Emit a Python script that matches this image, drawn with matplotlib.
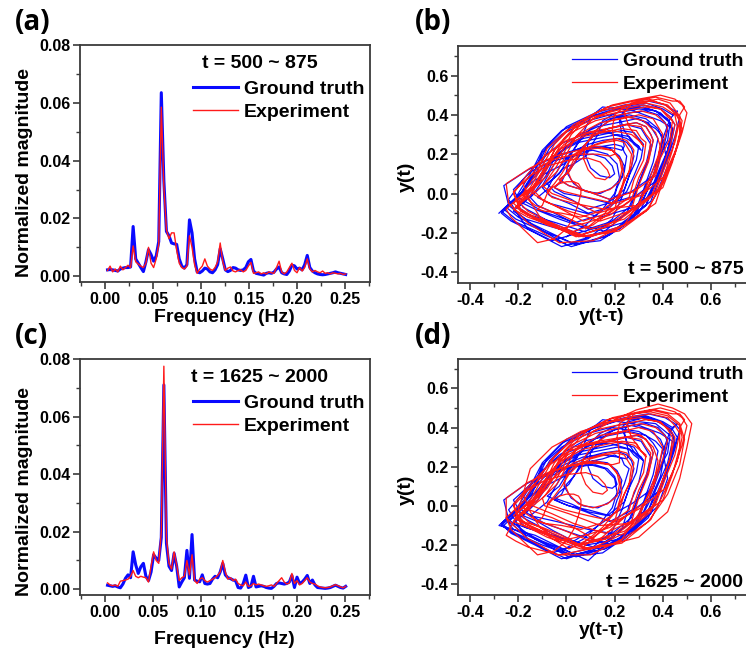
import numpy as np
import matplotlib
matplotlib.use("Agg")
import matplotlib.pyplot as plt
from matplotlib.ticker import MultipleLocator

# ---------------- data ----------------
FREQ_STEP = 1.0 / 375.0          # FFT bin spacing (Hz)
N_BINS = 94
LAG = 3                           # delay (samples) used for the y(t) vs y(t-tau) plots

spec_a_truth = [0.0022,0.0023,0.0022,0.0020,0.0018,0.0025,0.0028,0.0030,0.0030,0.0032,
0.0172,0.0060,0.0045,0.0030,0.0016,0.0050,0.0092,0.0075,0.0052,0.0070,
0.0120,0.0635,0.0330,0.0155,0.0140,0.0115,0.0112,0.0110,0.0060,0.0035,
0.0028,0.0040,0.0195,0.0150,0.0060,0.0015,0.0012,0.0018,0.0028,0.0025,
0.0015,0.0012,0.0022,0.0040,0.0095,0.0060,0.0022,0.0016,0.0020,0.0030,
0.0028,0.0022,0.0020,0.0022,0.0030,0.0050,0.0058,0.0018,0.0010,0.0008,
0.0006,0.0004,0.0010,0.0012,0.0010,0.0014,0.0025,0.0032,0.0012,0.0008,
0.0006,0.0018,0.0038,0.0036,0.0025,0.0028,0.0022,0.0040,0.0072,0.0030,
0.0018,0.0012,0.0008,0.0006,0.0005,0.0006,0.0008,0.0010,0.0012,0.0015,
0.0012,0.0010,0.0008,0.0006]

spec_a_exp = [0.0020,0.0035,0.0015,0.0025,0.0015,0.0035,0.0022,0.0030,0.0038,0.0030,
0.0105,0.0050,0.0042,0.0035,0.0030,0.0045,0.0100,0.0045,0.0030,0.0060,
0.0110,0.0585,0.0310,0.0160,0.0130,0.0150,0.0150,0.0090,0.0045,0.0030,
0.0025,0.0035,0.0140,0.0100,0.0040,0.0010,0.0025,0.0035,0.0060,0.0035,
0.0025,0.0020,0.0030,0.0050,0.0115,0.0050,0.0020,0.0028,0.0032,0.0018,
0.0015,0.0020,0.0022,0.0015,0.0020,0.0035,0.0048,0.0010,0.0012,0.0015,
0.0008,0.0012,0.0008,0.0015,0.0012,0.0010,0.0030,0.0052,0.0015,0.0008,
0.0015,0.0030,0.0045,0.0020,0.0012,0.0030,0.0018,0.0030,0.0060,0.0025,
0.0015,0.0020,0.0015,0.0012,0.0018,0.0010,0.0012,0.0008,0.0012,0.0010,
0.0008,0.0010,0.0006,0.0008]

spec_c_truth = [0.0014,0.0012,0.0010,0.0012,0.0008,0.0005,0.0018,0.0038,0.0050,0.0040,
0.0130,0.0085,0.0055,0.0078,0.0090,0.0045,0.0030,0.0060,0.0120,0.0108,
0.0100,0.0180,0.0710,0.0160,0.0080,0.0065,0.0125,0.0080,0.0008,0.0025,
0.0040,0.0135,0.0038,0.0190,0.0032,0.0028,0.0026,0.0050,0.0020,0.0018,
0.0020,0.0035,0.0045,0.0040,0.0060,0.0090,0.0050,0.0040,0.0037,0.0032,
0.0030,0.0006,0.0004,0.0020,0.0049,0.0006,0.0010,0.0045,0.0008,0.0010,
0.0012,0.0010,0.0006,0.0004,0.0003,0.0010,0.0020,0.0022,0.0020,0.0018,
0.0020,0.0025,0.0048,0.0006,0.0042,0.0020,0.0025,0.0035,0.0048,0.0020,
0.0032,0.0015,0.0006,0.0005,0.0004,0.0003,0.0004,0.0006,0.0010,0.0014,
0.0010,0.0006,0.0004,0.0010]

spec_c_exp = [0.0022,0.0015,0.0012,0.0015,0.0010,0.0028,0.0030,0.0032,0.0035,0.0045,
0.0065,0.0045,0.0040,0.0045,0.0042,0.0040,0.0025,0.0080,0.0130,0.0100,
0.0090,0.0200,0.0775,0.0180,0.0090,0.0070,0.0130,0.0085,0.0030,0.0040,
0.0045,0.0100,0.0050,0.0120,0.0030,0.0020,0.0035,0.0040,0.0030,0.0025,
0.0030,0.0035,0.0040,0.0048,0.0060,0.0100,0.0060,0.0035,0.0040,0.0030,
0.0035,0.0020,0.0015,0.0012,0.0025,0.0010,0.0012,0.0020,0.0015,0.0018,
0.0015,0.0012,0.0010,0.0012,0.0015,0.0010,0.0020,0.0030,0.0040,0.0025,
0.0018,0.0022,0.0055,0.0020,0.0030,0.0015,0.0020,0.0030,0.0040,0.0025,
0.0020,0.0018,0.0012,0.0008,0.0006,0.0005,0.0006,0.0008,0.0012,0.0016,
0.0012,0.0008,0.0005,0.0010]

# time series y(t) (hundredths) for the delay-embedding plots
y_b_truth = [
-28,-21,-15,-10,-2,10,22,32,39,43,45,43,39,35,23,9,-4,-15,
-20,-15,-11,-7,-1,7,15,23,28,30,32,31,28,25,18,9,1,-7,
-10,-5,-1,3,8,13,15,19,30,37,40,38,33,29,18,4,-10,-21,
-26,-19,-13,-8,0,12,24,34,41,45,47,45,42,39,29,18,8,-1,
-5,-2,0,3,6,11,15,20,23,24,25,24,21,19,11,3,-5,-12,
-15,-10,-6,-2,4,13,21,29,34,36,38,36,32,28,16,2,-11,-22,
-27,-20,-14,-9,-1,6,10,15,28,39,44,42,37,33,22,8,-6,-17,
-22,-17,-13,-9,-3,5,13,21,26,28,30,29,26,24,17,9,2,-5,
-8,-3,1,5,10,18,26,33,38,41,42,40,36,32,22,9,-3,-13,
-18,-13,-8,-5,1,10,18,25,31,33,35,33,29,25,15,2,-10,-20,
-25,-18,-12,-7,1,12,23,33,40,44,46,43,40,42,38,28,14,2,-7,
-12,-8,-5,-2,2,9,15,21,25,27,28,26,23,19,9,-2,-13,-23,
-27,-20,-14,-10,-2,9,21,30,37,41,43,42,38,36,27,18,9,1,
-3,1,4,7,11,17,24,29,33,35,36,34,30,27,17,5,-6,-16,-20,
-24,-18,-11,-3,7,17,25,30,31,28,24,22,25,32,39,43,44,41,36,30,18,4,-10,-20,
-15,-9,-2,6,14,20,23,24,23,22,24,30,37,42,44,42,38,33,22,8,-6,-18,
-22,-15,-7,2,11,16,19,20,18,14,10,8,9,13,19,26,33,38,40,38,33,27,14,0,-14,-24,
-26,-16,-6,4,12,18,22,24,23,19,14,8,3,0,1,5,11,17,21,22,20,15,8,0,-8,-16,-22]

y_b_exp = [
-20,-14,-9,-5,2,12,22,31,37,40,42,40,37,34,24,13,3,-6,
-10,-4,0,4,11,20,29,38,43,46,48,46,41,37,24,10,-5,-16,
-22,-17,-12,-8,-2,7,15,23,29,31,33,32,28,26,17,7,-2,-10,
-14,-8,-3,2,9,19,30,39,45,48,50,48,45,41,31,20,9,-1,
-5,-2,1,3,7,12,17,22,25,27,28,27,24,22,14,6,-2,-9,
-12,-10,-9,-8,-6,-3,0,3,5,6,6,5,3,0,-5,-12,-18,-23,
-25,-18,-12,-8,0,11,23,32,39,43,45,43,39,35,24,10,-2,-13,
-18,-11,-6,-1,6,17,28,37,44,47,49,47,47,44,40,30,16,3,-6,
-8,-5,-2,1,5,10,16,21,24,26,27,26,22,20,11,1,-8,-16,
-20,-14,-9,-4,3,13,24,33,39,42,44,43,39,37,28,18,9,1,
-3,1,4,7,11,17,24,29,33,35,36,34,30,27,16,4,-8,-17,
-22,-15,-10,-5,3,14,25,35,42,45,47,45,41,37,26,14,1,-9,
-14,-9,-4,0,5,14,23,30,36,38,40,38,34,30,19,6,-6,-16,
-21,-15,-11,-7,-1,8,17,25,31,33,35,34,30,27,18,8,-3,-11,-15,
-18,-12,-4,5,13,18,20,20,19,20,25,33,40,45,46,44,40,34,22,7,-8,-19,
-22,-16,-9,0,10,19,27,31,32,30,26,24,27,34,41,46,48,45,40,33,20,5,-9,-19,
-22,-15,-8,1,9,14,17,18,16,12,9,7,8,12,18,25,32,37,39,37,31,24,11,-3,-16,-24,
-25,-15,-5,5,13,19,22,23,22,18,12,6,2,0,2,7,13,19,23,24,22,16,8,-1,-10,-18]

y_d_truth = [
-26,-19,-13,-8,0,12,24,34,41,45,47,45,42,39,29,18,8,-1,
-8,-3,1,5,10,18,26,33,38,41,42,40,36,32,22,9,-3,-13,
-28,-21,-15,-10,-2,10,22,32,39,44,46,43,39,35,23,9,-4,-15,
-12,-8,-5,-2,2,9,15,21,25,27,28,26,23,19,9,-2,-13,-23,
-27,-20,-14,-9,-1,6,10,15,28,39,44,42,37,33,22,8,-6,-17,
-20,-15,-11,-7,-1,7,15,23,28,30,32,30,26,23,12,0,-12,-22,
-27,-20,-14,-10,-2,9,21,30,37,41,43,42,38,36,27,18,9,1,
-5,-2,0,3,6,11,15,20,23,24,26,24,21,19,11,3,-5,-12,
-18,-13,-8,-5,1,10,18,25,31,33,35,33,29,25,15,2,-10,-20,
-24,-18,-12,-8,-1,8,14,19,30,37,40,38,33,29,18,4,-10,-21,
-26,-20,-14,-10,-3,7,18,26,33,36,38,36,32,28,16,2,-11,-22,
-25,-18,-12,-7,1,12,23,33,40,44,46,43,40,42,38,28,14,0,-12,
-22,-17,-13,-9,-3,5,13,21,26,28,30,29,26,24,17,9,2,-5,
-3,1,4,7,11,17,24,29,33,35,36,34,30,27,17,5,-6,-16,-20,
-24,-17,-10,-2,8,18,26,31,32,29,25,23,26,33,40,44,45,42,37,31,19,5,-9,-20,
-15,-9,-1,7,15,21,25,26,25,24,26,32,38,43,45,43,39,34,23,9,-6,-18,
-22,-14,-6,3,12,17,20,21,19,15,11,9,10,14,20,27,34,39,41,39,34,28,15,1,-13,-24,
-26,-17,-7,3,11,17,21,23,22,18,13,7,2,-1,0,4,10,16,20,21,19,14,7,-1,-9,-17,-22]

y_d_exp = [
-14,-8,-3,2,9,19,30,39,45,48,50,48,45,41,31,20,9,-1,
-8,-5,-2,1,5,10,16,21,24,26,27,26,22,20,11,1,-8,-16,
-22,-15,-10,-5,3,14,25,35,42,45,47,45,41,37,26,14,1,-9,
-10,-4,0,4,11,20,29,38,44,49,52,50,47,42,30,14,-3,-16,-21,
-25,-21,-18,-15,-6,6,19,30,38,43,45,43,39,35,24,10,-2,-13,
-18,-12,-7,-3,3,13,23,30,33,35,36,34,30,27,16,4,-8,-17,
-20,-14,-9,-5,2,12,22,31,37,40,42,40,37,34,24,13,3,-6,
-18,-11,-6,-1,6,17,28,37,44,47,49,47,47,44,40,30,16,3,-6,
-14,-9,-4,0,5,14,23,30,36,38,40,38,34,30,19,6,-6,-16,
-20,-14,-8,-3,3,11,17,22,25,27,28,27,24,22,14,6,-2,-9,
-12,-10,-9,-8,-6,-3,0,3,5,6,6,5,3,0,-5,-12,-18,-23,
-25,-18,-12,-6,2,13,24,33,39,42,44,43,39,35,24,10,-3,-14,
-22,-17,-12,-8,-2,7,15,23,29,31,33,32,28,26,17,7,-2,-10,
-21,-15,-11,-7,-1,8,17,25,31,33,35,34,30,27,18,8,-3,-11,-15,
-18,-11,-3,6,14,19,22,22,21,22,27,35,42,47,48,46,41,35,23,8,-7,-19,
-22,-15,-8,1,11,20,28,32,33,31,27,25,28,35,42,47,49,47,42,34,21,6,-8,-19,
-22,-16,-9,0,8,13,16,17,15,11,8,6,7,11,17,24,31,36,38,36,30,23,10,-4,-17,-25,
-25,-16,-6,4,12,18,21,22,21,17,11,5,1,-1,1,6,12,18,22,23,21,15,7,-2,-11,-19]

series_labels = ["Ground truth", "Experiment"]
window_labels = ["t = 500 ~ 875", "t = 1625 ~ 2000"]
panel_letters = ["(a)", "(b)", "(c)", "(d)"]

# ---------------- style ----------------
plt.rcParams["font.family"] = ["Liberation Sans", "DejaVu Sans"]
plt.rcParams["font.weight"] = "bold"
plt.rcParams["axes.labelweight"] = "bold"

BLUE = "#0a0aff"
RED = "#ff1a1a"
SPINE = "#3a3a3a"
W, H = 746, 652

fig = plt.figure(figsize=(W / 100, H / 100), dpi=100)


def add_ax(l, t, r, b):
    return fig.add_axes([l / W, 1 - b / H, (r - l) / W, (b - t) / H])


def style_ax(ax, xmaj, xmin, ymaj, ymin):
    for s in ax.spines.values():
        s.set_linewidth(1.3)
        s.set_color(SPINE)
    ax.xaxis.set_major_locator(MultipleLocator(xmaj))
    ax.xaxis.set_minor_locator(MultipleLocator(xmin))
    ax.yaxis.set_major_locator(MultipleLocator(ymaj))
    ax.yaxis.set_minor_locator(MultipleLocator(ymin))
    ax.tick_params(which="major", direction="out", length=5, width=1.2,
                   color=SPINE, labelsize=11.5, pad=2, top=False, right=False)
    ax.tick_params(which="minor", direction="out", length=3, width=1.0,
                   color=SPINE, top=False, right=False)


freq = np.arange(1, N_BINS + 1) * FREQ_STEP


def spectrum_panel(ax, truth, exp, window):
    lb, = ax.plot(freq, truth, color=BLUE, lw=2.2)
    lr, = ax.plot(freq, exp, color=RED, lw=1.0)
    ax.set_xlim(-0.026, 0.276)
    ax.set_ylim(-0.002, 0.08)
    style_ax(ax, 0.05, 0.025, 0.02, 0.01)
    ax.xaxis.set_major_formatter(plt.FormatStrFormatter("%.2f"))
    ax.yaxis.set_major_formatter(plt.FormatStrFormatter("%.2f"))
    ax.set_xlabel("Frequency (Hz)", fontsize=14)
    ax.set_ylabel("Normalized magnitude", fontsize=14)
    ax.text(0.62, 0.92, window, transform=ax.transAxes, ha="center",
            va="center", fontsize=14)
    ax.legend(handles=[lb, lr], labels=series_labels, loc="upper left",
              bbox_to_anchor=(0.39, 0.852), frameon=False, borderpad=0,
              borderaxespad=0, handlelength=2.3, handletextpad=0.3,
              labelspacing=0.3, fontsize=14)


def phase_panel(ax, truth, exp, window):
    yt = np.array(truth) / 100.0
    ye = np.array(exp) / 100.0
    lb, = ax.plot(yt[:-LAG], yt[LAG:], color=BLUE, lw=0.9)
    lr, = ax.plot(ye[:-LAG], ye[LAG:], color=RED, lw=0.9)
    ax.set_xlim(-0.45, 0.77)
    ax.set_ylim(-0.455, 0.75)
    style_ax(ax, 0.2, 0.1, 0.2, 0.1)
    ax.xaxis.set_major_formatter(plt.FormatStrFormatter("%.1f"))
    ax.yaxis.set_major_formatter(plt.FormatStrFormatter("%.1f"))
    ax.set_xlabel("y(t-\u03c4)", fontsize=14)
    ax.set_ylabel("y(t)", fontsize=14)
    ax.text(0.97, 0.055, window, transform=ax.transAxes, ha="right",
            va="center", fontsize=14)
    ax.legend(handles=[lb, lr], labels=series_labels, loc="upper left",
              bbox_to_anchor=(0.388, 0.972), frameon=False, borderpad=0,
              borderaxespad=0, handlelength=2.3, handletextpad=0.3,
              labelspacing=0.25, fontsize=14)


ax_a = add_ax(80, 45, 370, 282)
ax_b = add_ax(458, 46, 752, 283)
ax_c = add_ax(80, 359, 370, 595)
ax_d = add_ax(458, 359, 752, 595)

spectrum_panel(ax_a, spec_a_truth, spec_a_exp, window_labels[0])
spectrum_panel(ax_c, spec_c_truth, spec_c_exp, window_labels[1])
phase_panel(ax_b, y_b_truth, y_b_exp, window_labels[0])
phase_panel(ax_d, y_d_truth, y_d_exp, window_labels[1])

ax_a.yaxis.set_label_coords(-0.162, 0.46)
ax_a.xaxis.set_label_coords(0.497, -0.114)
ax_c.yaxis.set_label_coords(-0.162, 0.44)
ax_c.xaxis.set_label_coords(0.497, -0.153)
ax_b.yaxis.set_label_coords(-0.146, 0.447)
ax_b.xaxis.set_label_coords(0.49, -0.105)
ax_d.yaxis.set_label_coords(-0.146, 0.445)
ax_d.xaxis.set_label_coords(0.49, -0.114)

label_pos = [(15, 22), (415, 22), (15, 337), (415, 337)]
for letter, (px, py) in zip(panel_letters, label_pos):
    fig.text(px / W, 1 - py / H, letter, fontsize=20, fontweight="bold",
             family=["Open Sans", "DejaVu Sans"], ha="left", va="center")

fig.savefig("out.png", dpi=100)
